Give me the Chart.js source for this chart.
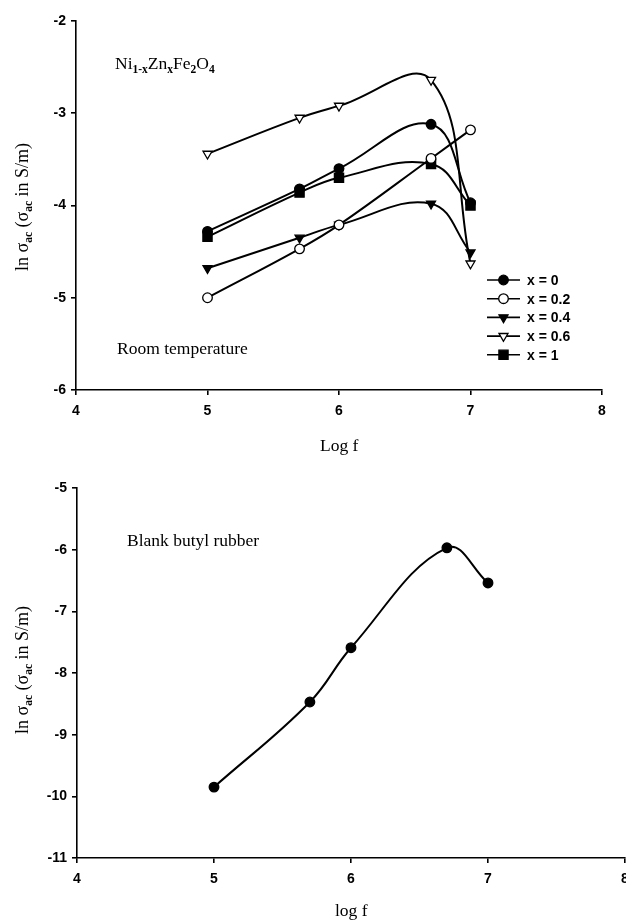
<!DOCTYPE html>
<html>
<head>
<meta charset="utf-8">
<script src="https://cdn.jsdelivr.net/npm/chart.js@4/dist/chart.umd.min.js"></script>
<style>
  html, body { margin: 0; padding: 0; background: #fff; }
  body { width: 626px; height: 920px; position: relative; overflow: hidden; }
  canvas { position: absolute; left: 0; }
  .txt { position: absolute; font-family: 'Liberation Serif', 'Times New Roman', serif; font-size: 17.5px; color: #000; line-height: 20px; white-space: nowrap; }
  .txt sub { font-size: 11.5px; vertical-align: -4px; line-height: 0; font-weight: bold; }
  .ytitle { width: 220px; height: 20px; text-align: center; transform: rotate(-90deg); font-size: 18px; }
</style>
</head>
<body>
<canvas id="ferrite" width="626" height="460" style="top:0"></canvas>
<canvas id="rubber" width="640" height="460" style="top:460px"></canvas>

<div class="txt" style="left:115px; top:53px">Ni<sub>1-x</sub>Zn<sub>x</sub>Fe<sub>2</sub>O<sub>4</sub></div>
<div class="txt" style="left:117px; top:338px">Room temperature</div>
<div class="txt" style="left:320px; top:435px">Log f</div>
<div class="txt ytitle" style="left:-88px; top:197px">ln &sigma;<sub>ac</sub> (&sigma;<sub>ac</sub> in S/m)</div>

<div class="txt" style="left:127px; top:530px">Blank butyl rubber</div>
<div class="txt" style="left:335px; top:900px">log f</div>
<div class="txt ytitle" style="left:-88px; top:660px">ln &sigma;<sub>ac</sub> (&sigma;<sub>ac</sub> in S/m)</div>

<script>
// top panel: Ni(1-x)Zn(x)Fe2O4, room temperature
const logF = [5, 5.7, 6, 6.7, 7];
const sigmaX0 = [-4.28, -3.82, -3.60, -3.12, -3.97];
const sigmaX02 = [-5.00, -4.47, -4.21, -3.49, -3.18];
const sigmaX04 = [-4.68, -4.35, -4.21, -3.98, -4.51];
const sigmaX06 = [-3.44, -3.05, -2.92, -2.64, -4.63];
const sigmaX1 = [-4.34, -3.86, -3.70, -3.55, -4.00];
const seriesLabels = ['x = 0', 'x = 0.2', 'x = 0.4', 'x = 0.6', 'x = 1'];

// bottom panel: blank butyl rubber
const rubberLogF = [5, 5.7, 6, 6.7, 7];
const rubberSigma = [-9.85, -8.47, -7.59, -5.97, -6.54];

const xTicks = [4, 5, 6, 7, 8];
const ferriteYTicks = [-6, -5, -4, -3, -2];
const rubberYTicks = [-11, -10, -9, -8, -7, -6, -5];

const pts = (xs, ys) => xs.map((x, i) => ({ x: x, y: ys[i] }));

// marker looks: filled circle, open circle, filled tri down, open tri down, filled square
const markers = [
  { pointStyle: 'circle', rotation: 0, radius: 4.8, fill: '#000' },
  { pointStyle: 'circle', rotation: 0, radius: 4.8, fill: '#fff' },
  { pointStyle: 'triangle', rotation: 180, radius: 5.2, fill: '#000' },
  { pointStyle: 'triangle', rotation: 180, radius: 5.2, fill: '#fff' },
  { pointStyle: 'rect', rotation: 0, radius: 6.5, fill: '#000' },
];

function makeSet(label, xs, ys, m) {
  return {
    label: label,
    data: pts(xs, ys),
    borderColor: '#000',
    borderWidth: 2,
    tension: 0.4,
    pointStyle: m.pointStyle,
    pointRotation: m.rotation,
    pointRadius: m.radius,
    pointBackgroundColor: m.fill,
    pointBorderColor: '#000',
    pointBorderWidth: 1.3,
  };
}

// legend with a line through each marker, placed inside the plot area
const lineLegend = {
  id: 'lineLegend',
  afterDatasetsDraw(chart, args, opts) {
    if (!opts.show) return;
    const ctx = chart.ctx;
    const area = chart.chartArea;
    const x0 = area.left + opts.dx;
    ctx.save();
    chart.data.datasets.forEach((ds, i) => {
      const y = area.top + opts.dy + i * opts.spacing;
      ctx.strokeStyle = '#000';
      ctx.lineWidth = 1.6;
      ctx.beginPath();
      ctx.moveTo(x0, y);
      ctx.lineTo(x0 + 33, y);
      ctx.stroke();
      ctx.fillStyle = ds.pointBackgroundColor;
      ctx.lineWidth = 1.3;
      Chart.helpers.drawPoint(ctx, {
        pointStyle: ds.pointStyle,
        rotation: ds.pointRotation,
        radius: ds.pointRadius,
        borderWidth: 1.3,
      }, x0 + 16.5, y);
      ctx.fillStyle = '#000';
      ctx.font = 'bold 14px "Liberation Sans", Arial, sans-serif';
      ctx.textBaseline = 'middle';
      ctx.textAlign = 'left';
      ctx.fillText(ds.label, x0 + 40, y + 1);
    });
    ctx.restore();
  }
};

function axis(min, max, ticks, fitSize, isX) {
  return {
    type: 'linear',
    min: min,
    max: max,
    afterBuildTicks(scale) { scale.ticks = ticks.map(v => ({ value: v })); },
    afterFit(scale) {
      if (isX) scale.height = fitSize; else scale.width = fitSize;
    },
    border: { display: true, color: '#000', width: 1.6 },
    grid: { display: true, drawOnChartArea: false, drawTicks: true, tickLength: 5, color: '#000', lineWidth: 1.6 },
    ticks: {
      color: '#000',
      padding: isX ? 8 : 5,
      font: { family: '"Liberation Sans", Arial, sans-serif', weight: 'bold', size: 14 },
    },
  };
}

new Chart(document.getElementById('ferrite'), {
  type: 'line',
  data: {
    datasets: [
      makeSet(seriesLabels[0], logF, sigmaX0, markers[0]),
      makeSet(seriesLabels[1], logF, sigmaX02, markers[1]),
      makeSet(seriesLabels[2], logF, sigmaX04, markers[2]),
      makeSet(seriesLabels[3], logF, sigmaX06, markers[3]),
      makeSet(seriesLabels[4], logF, sigmaX1, markers[4]),
    ]
  },
  options: {
    responsive: false,
    animation: false,
    devicePixelRatio: 1,
    layout: { padding: { top: 21, right: 24, bottom: 0, left: 0 } },
    scales: {
      x: axis(4, 8, xTicks, 70, true),
      y: axis(-6, -2, ferriteYTicks, 76, false),
    },
    plugins: {
      legend: { display: false },
      tooltip: { enabled: false },
      lineLegend: { show: true, dx: 411, dy: 259, spacing: 18.7 },
    }
  },
  plugins: [lineLegend]
});

new Chart(document.getElementById('rubber'), {
  type: 'line',
  data: {
    datasets: [
      makeSet('Blank butyl rubber', rubberLogF, rubberSigma, markers[0]),
    ]
  },
  options: {
    responsive: false,
    animation: false,
    devicePixelRatio: 1,
    layout: { padding: { top: 28, right: 15, bottom: 0, left: 0 } },
    scales: {
      x: axis(4, 8, xTicks, 62, true),
      y: axis(-11, -5, rubberYTicks, 77, false),
    },
    plugins: {
      legend: { display: false },
      tooltip: { enabled: false },
      lineLegend: { show: false },
    }
  },
  plugins: [lineLegend]
});
</script>
</body>
</html>
